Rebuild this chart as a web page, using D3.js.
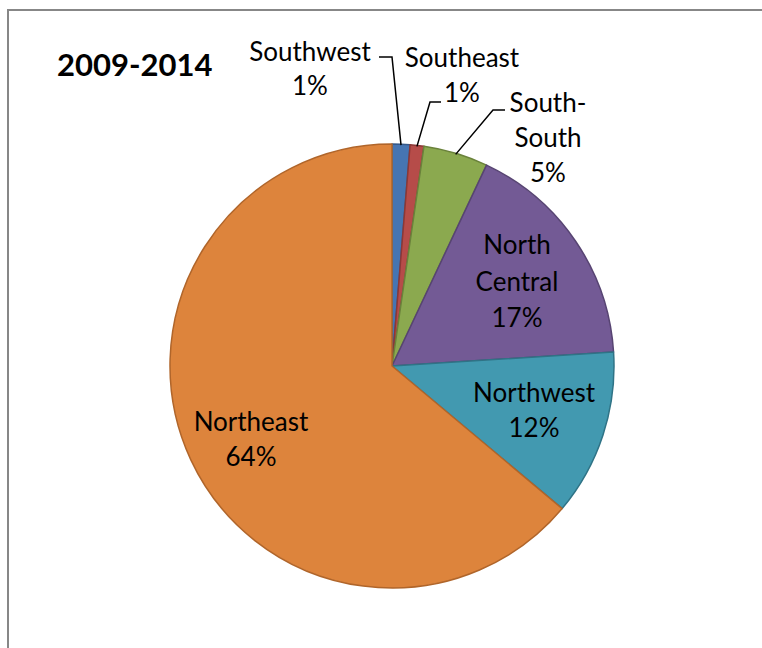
<!DOCTYPE html>
<html>
<head>
<meta charset="utf-8">
<script src="https://cdn.jsdelivr.net/npm/d3@7"></script>
<style>
  html, body { margin: 0; padding: 0; background: #fff; }
  svg { display: block; }
</style>
</head>
<body>
<svg id="chart" width="762" height="648"></svg>
<script>
// ---- data ----
const title = "2009-2014";
const regions = ["Southwest", "Southeast", "South-South", "North Central", "Northwest", "Northeast"];
const shares = [1.3, 1.0, 4.7, 17.0, 12.1, 63.9];
const percentLabels = ["1%", "1%", "5%", "17%", "12%", "64%"];
const labelLines = [["Southwest"], ["Southeast"], ["South-", "South"], ["North", "Central"], ["Northwest"], ["Northeast"]];
const fills = ["#4675B2", "#B64C49", "#8BA94F", "#735A95", "#4299B0", "#DD843C"];
const strokes = ["#35598A", "#8C3836", "#6A823B", "#574472", "#2F7386", "#B0652A"];

// ---- layout ----
const svg = d3.select("#chart");
const cx = 392, cy = 366, r = 222;
const font = "Lato, 'Open Sans', sans-serif";

svg.append("rect")
  .attr("x", 8).attr("y", 10)
  .attr("width", 800).attr("height", 700)
  .attr("fill", "#fff")
  .attr("stroke", "#878787")
  .attr("stroke-width", 2);

svg.append("text")
  .attr("x", 57).attr("y", 76)
  .attr("font-family", font)
  .attr("font-weight", "bold")
  .attr("font-size", 31)
  .attr("fill", "#000")
  .text(title);

const data = regions.map((name, i) => ({ name, value: shares[i], i }));
const pie = d3.pie().sort(null).value(d => d.value).startAngle(0).endAngle(2 * Math.PI);
const arc = d3.arc().innerRadius(0).outerRadius(r);
const arcs = pie(data);

const g = svg.append("g").attr("transform", `translate(${cx},${cy})`);
g.selectAll("path.slice")
  .data(arcs)
  .join("path")
  .attr("class", "slice")
  .attr("d", arc)
  .attr("fill", d => fills[d.data.i])
  .attr("stroke", d => strokes[d.data.i])
  .attr("stroke-width", 1.5)
  .attr("stroke-linejoin", "round");

// label anchor positions (absolute), baselines for each line
const labelPos = [
  { x: 310, y: 61, dy: 34, leader: [[392, 57], [379, 57]] },
  { x: 462, y: 67, dy: 35, leader: [[430, 102], [441, 102]] },
  { x: 548, y: 112, dy: 35, leader: [[493, 110], [505, 110]] },
  { x: 517, y: 254, dy: 36.5 },
  { x: 534, y: 402, dy: 35 },
  { x: 251, y: 431, dy: 35 }
];

// leader lines from slice edge midpoints
arcs.forEach(a => {
  const p = labelPos[a.data.i];
  if (!p.leader) return;
  const mid = (a.startAngle + a.endAngle) / 2;
  const sx = cx + (r - 1) * Math.sin(mid);
  const sy = cy - (r - 1) * Math.cos(mid);
  const pts = [[sx, sy]].concat(p.leader);
  svg.append("path")
    .attr("d", d3.line()(pts))
    .attr("fill", "none")
    .attr("stroke", "#000")
    .attr("stroke-width", 1.5);
});

arcs.forEach(a => {
  const i = a.data.i;
  const p = labelPos[i];
  const lines = labelLines[i].concat([percentLabels[i]]);
  const t = svg.append("text")
    .attr("font-family", font)
    .attr("font-size", 26)
    .attr("fill", "#000")
    .attr("text-anchor", "middle");
  lines.forEach((ln, k) => {
    t.append("tspan").attr("x", p.x).attr("y", p.y + k * p.dy).text(ln);
  });
});
</script>
</body>
</html>
